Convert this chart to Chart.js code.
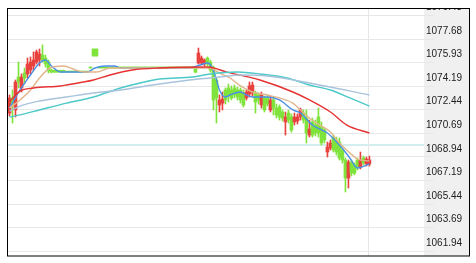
<!DOCTYPE html>
<html>
<head>
<meta charset="utf-8">
<script src="https://cdn.jsdelivr.net/npm/chart.js@4"></script>
<style>
  html, body { margin: 0; padding: 0; background: #fff; }
  canvas { display: block; }
</style>
</head>
<body>
<canvas id="kChart" width="476" height="263"></canvas>
<script>
// candles, one per minute slot (index 0 = first slot of the session)
const opens = [1072.19,1073.31,1072.42,1074.86,1074.05,1075.16,1075.09,1075.38,1075.68,1075.97,
  1076.12,1076.49,1076.27,1075.97,1075.38,1075.35,1075.35,1075.35,1075.35,1075.23,
  1075.23,1075.23,1075.23,1075.23,1075.23,1075.23,1075.23,1075.60,1076.94,1076.94,
  1075.60,1075.60,1075.60,1075.60,1075.60,1075.60,1075.60,1075.60,1075.60,1075.60,
  1075.60,1075.60,1075.60,1075.60,1075.60,1075.60,1075.60,1075.60,1075.60,1075.60,
  1075.60,1075.60,1075.60,1075.60,1075.60,1075.60,1075.60,1075.60,1075.60,1075.60,
  1075.60,1075.60,1075.53,1075.90,1075.90,1075.83,1076.27,1075.97,1075.53,1074.64,
  1072.79,1072.93,1073.90,1074.05,1073.90,1074.05,1073.90,1073.90,1073.68,1073.31,
  1073.60,1073.68,1073.68,1073.53,1072.79,1073.31,1073.31,1072.42,1073.16,1072.56,
  1072.64,1072.27,1071.53,1072.19,1071.90,1071.53,1071.60,1071.90,1072.19,1071.82,
  1070.56,1071.53,1071.30,1071.90,1071.16,1070.93,1069.30,1069.60,1070.34,1070.19,
  1070.04,1069.45,1068.71,1067.37,1068.56,1068.34,1068.71,1068.19,1068.86,1068.41,
  1068.41];
const closes = [1073.31,1072.93,1074.49,1074.49,1074.86,1074.79,1075.83,1075.97,1076.12,1076.72,
  1076.57,1076.12,1075.83,1075.31,1075.23,1075.23,1075.23,1075.23,1075.23,1075.23,
  1075.23,1075.23,1075.23,1075.23,1075.23,1075.23,1075.23,1075.53,1076.42,1076.42,
  1075.53,1075.53,1075.53,1075.53,1075.53,1075.53,1075.53,1075.53,1075.53,1075.53,
  1075.53,1075.53,1075.53,1075.53,1075.53,1075.53,1075.53,1075.53,1075.53,1075.53,
  1075.53,1075.53,1075.53,1075.53,1075.53,1075.53,1075.53,1075.53,1075.53,1075.53,
  1075.53,1075.53,1075.23,1076.64,1076.27,1076.12,1075.83,1075.38,1073.16,1073.31,
  1073.16,1073.23,1073.16,1073.45,1073.31,1073.53,1073.38,1073.16,1072.79,1073.75,
  1074.20,1074.27,1073.01,1073.16,1073.53,1072.42,1072.86,1073.16,1072.56,1072.05,
  1071.90,1071.82,1071.90,1071.67,1070.93,1071.90,1071.90,1072.42,1071.67,1070.71,
  1071.01,1070.56,1070.71,1070.71,1069.97,1070.19,1069.67,1069.97,1069.45,1069.30,
  1068.86,1068.71,1067.37,1068.56,1067.74,1067.74,1068.12,1068.71,1068.49,1068.78,
  1068.71];
const highs = [1073.53,1073.90,1074.64,1075.97,1075.09,1075.53,1076.27,1076.35,1076.72,1076.86,
  1076.94,1077.24,1076.49,1076.12,1075.46,1075.38,1075.38,1075.38,1075.38,1075.23,
  1075.23,1075.23,1075.23,1075.23,1075.23,1075.23,1075.23,1075.60,1076.94,1076.94,
  1075.60,1075.60,1075.60,1075.60,1075.60,1075.60,1075.60,1075.60,1075.60,1075.60,
  1075.60,1075.60,1075.60,1075.60,1075.60,1075.60,1075.60,1075.60,1075.60,1075.60,
  1075.60,1075.60,1075.60,1075.60,1075.60,1075.60,1075.60,1075.60,1075.60,1075.60,
  1075.60,1075.60,1075.60,1077.01,1076.42,1076.20,1076.35,1076.12,1075.68,1074.79,
  1073.53,1073.75,1074.05,1074.34,1074.20,1074.27,1074.12,1074.05,1073.90,1073.90,
  1074.49,1074.49,1073.82,1073.68,1073.75,1073.45,1073.53,1073.45,1073.38,1072.86,
  1072.79,1072.42,1072.27,1072.42,1072.12,1072.19,1072.12,1072.56,1072.42,1072.42,
  1071.67,1071.82,1071.67,1072.56,1071.53,1071.08,1070.04,1070.19,1070.56,1070.41,
  1070.34,1069.60,1068.86,1068.71,1068.71,1068.49,1068.86,1069.30,1069.00,1068.93,
  1069.00];
const lows = [1071.97,1071.45,1071.90,1074.05,1073.75,1074.34,1074.79,1075.09,1075.38,1075.83,
  1075.68,1075.97,1075.60,1075.16,1075.16,1075.20,1075.20,1075.20,1075.20,1075.23,
  1075.23,1075.23,1075.23,1075.23,1075.23,1075.23,1075.23,1075.53,1076.42,1076.42,
  1075.53,1075.53,1075.53,1075.53,1075.53,1075.53,1075.53,1075.53,1075.53,1075.53,
  1075.53,1075.53,1075.53,1075.53,1075.53,1075.53,1075.53,1075.53,1075.53,1075.53,
  1075.53,1075.53,1075.53,1075.53,1075.53,1075.53,1075.53,1075.53,1075.53,1075.53,
  1075.53,1075.53,1075.16,1075.83,1075.75,1075.68,1075.68,1075.23,1072.42,1071.45,
  1072.27,1072.42,1072.86,1073.01,1073.16,1073.31,1073.16,1072.93,1072.64,1073.16,
  1073.38,1073.45,1072.19,1072.86,1072.56,1072.27,1072.71,1072.27,1072.05,1071.82,
  1071.67,1071.60,1070.56,1071.45,1070.78,1071.30,1071.38,1071.67,1071.45,1069.97,
  1070.41,1070.41,1070.49,1070.41,1069.82,1069.97,1068.93,1069.45,1069.30,1069.08,
  1068.71,1068.49,1066.34,1066.63,1067.52,1067.60,1067.97,1068.04,1068.34,1068.26,
  1068.26];

// moving averages, read as [slot, price]
const ma5 = [[0,1072.56],[3.5,1073.90],[7,1075.01],[10,1075.90],[12,1076.12],[14,1075.68],[17,1075.23],
  [26,1075.23],[28.5,1075.53],[32,1075.68],[35,1075.68],[37,1075.53],[60,1075.53],[63.5,1075.75],
  [66,1075.90],[67.5,1075.60],[69,1074.64],[70,1073.90],[72,1073.38],[73.5,1073.53],[77,1073.75],
  [79,1073.53],[81,1073.38],[86,1073.38],[90,1073.16],[94.5,1072.42],[97,1072.19],[101,1071.30],
  [106,1070.71],[110,1069.82],[113.5,1068.86],[116,1068.12],[120,1068.41]];
const ma10 = [[0,1072.56],[3.5,1073.16],[7,1073.90],[10,1074.79],[13.5,1075.53],[18,1075.68],[22,1075.38],
  [25,1075.23],[29,1075.23],[33.5,1075.53],[66.8,1075.53],[70,1075.16],[73.5,1074.79],[77,1074.20],
  [81,1073.75],[86,1073.53],[90,1073.31],[94.5,1072.93],[97,1072.42],[100,1071.82],[103.5,1071.30],
  [107,1070.78],[110,1069.97],[113.5,1069.23],[116,1068.78],[120,1068.63]];
const ma20 = [[0,1073.01],[3.5,1073.82],[8,1074.05],[17,1074.20],[19,1074.27],[28,1074.64],[33.5,1075.01],
  [41,1075.38],[50,1075.53],[66,1075.60],[72.5,1075.23],[83.5,1074.64],[94.5,1073.75],[100,1073.16],
  [107,1072.27],[112.5,1071.30],[120,1070.71]];
const ma30 = [[0,1071.90],[3.5,1072.05],[10,1072.42],[19,1072.93],[28,1073.38],[37,1074.05],[43.5,1074.42],
  [50,1074.71],[61,1074.86],[67,1075.09],[76,1075.23],[83.5,1075.09],[92.5,1074.79],[100,1074.27],
  [107,1073.90],[113.5,1073.31],[120,1072.71]];
const ma60 = [[0,1072.34],[3.5,1072.71],[10,1073.08],[19,1073.38],[28,1073.68],[37,1073.90],[50,1074.34],
  [63,1074.71],[70,1074.86],[77,1075.01],[86,1074.94],[100,1074.42],[120,1073.53]];

const prevClose = 1069.82;
const daySlots = 138.7;
const yTicks = [1061.94,1063.69,1065.44,1067.19,1068.94,1070.69,1072.44,1074.19,1075.93,1077.68,1079.43];

const RED = '#e8423f';
const GREEN = '#80e33c';

const candleColor = opens.map((o, i) => closes[i] > o ? RED : GREEN);
const wicks = opens.map((o, i) => ({ x: i, y: [lows[i], highs[i]] }));
const bodies = opens.map((o, i) => ({ x: i, y: [o, closes[i]] }));
const pts = arr => arr.map(p => ({ x: p[0], y: p[1] }));

function maLine(arr, color) {
  return {
    type: 'line',
    data: pts(arr),
    borderColor: color,
    borderWidth: 1.4,
    pointRadius: 0,
    cubicInterpolationMode: 'monotone',
    order: 0
  };
}

const frame = {
  id: 'frame',
  beforeDraw(chart) {
    const { ctx, chartArea: a } = chart;
    ctx.save();
    ctx.fillStyle = '#fff';
    ctx.fillRect(0, 0, chart.width, chart.height);
    ctx.fillStyle = '#f0f0f0';
    ctx.fillRect(a.right, a.top, 46, a.bottom - a.top);
    ctx.restore();
  },
  beforeDatasetsDraw(chart) {
    const { ctx, chartArea: a, scales: { x, y } } = chart;
    ctx.save();
    const py = y.getPixelForValue(prevClose);
    ctx.strokeStyle = '#d3eeee';
    ctx.lineWidth = 2;
    ctx.beginPath();
    ctx.moveTo(a.left, py);
    ctx.lineTo(a.right, py);
    ctx.stroke();
    const px = Math.round(x.getPixelForValue(closes.length - 1)) - 0.5;
    ctx.strokeStyle = '#e6e6e6';
    ctx.lineWidth = 1;
    ctx.beginPath();
    ctx.moveTo(px, a.top);
    ctx.lineTo(px, a.bottom);
    ctx.stroke();
    ctx.restore();
  },
  afterDraw(chart) {
    const { ctx, chartArea: a } = chart;
    ctx.save();
    ctx.fillStyle = '#fff';
    ctx.fillRect(0, 0, chart.width, a.top);
    ctx.strokeStyle = '#000';
    ctx.lineWidth = 1;
    ctx.strokeRect(7.5, a.top + 0.5, a.right + 46 - 8, a.bottom - a.top - 0.5);
    ctx.restore();
  }
};

Chart.defaults.font.family = '"Liberation Sans", Arial, sans-serif';

new Chart(document.getElementById('kChart'), {
  type: 'bar',
  data: {
    datasets: [
      maLine(ma60, '#a9c3dc'),
      maLine(ma30, '#4cc9c9'),
      maLine(ma20, '#e63232'),
      maLine(ma10, '#e2b68c'),
      maLine(ma5, '#4a8fe6'),
      {
        data: bodies,
        backgroundColor: candleColor,
        barThickness: 3,
        minBarLength: 1,
        grouped: false,
        order: 1
      },
      {
        data: wicks,
        backgroundColor: candleColor,
        barThickness: 1,
        grouped: false,
        order: 2
      }
    ]
  },
  options: {
    responsive: false,
    maintainAspectRatio: false,
    animation: false,
    layout: { padding: { left: 8, top: 8, right: 6, bottom: 7 } },
    plugins: { legend: { display: false }, tooltip: { enabled: false } },
    scales: {
      x: {
        type: 'linear',
        display: false,
        min: -0.5,
        max: daySlots - 0.5,
        offset: false
      },
      y: {
        position: 'right',
        min: 1061.59,
        max: 1079.98,
        afterBuildTicks: s => { s.ticks = yTicks.map(v => ({ value: v })); },
        afterFit: s => { s.width = 46; },
        border: { display: false },
        grid: { color: '#e8e8e8', lineWidth: 1, tickLength: 10, drawTicks: true },
        ticks: {
          autoSkip: false,
          padding: -8,
          labelOffset: -8,
          color: '#222',
          font: { size: 10 },
          callback: v => v.toFixed(2)
        }
      }
    }
  },
  plugins: [frame]
});
</script>
</body>
</html>
